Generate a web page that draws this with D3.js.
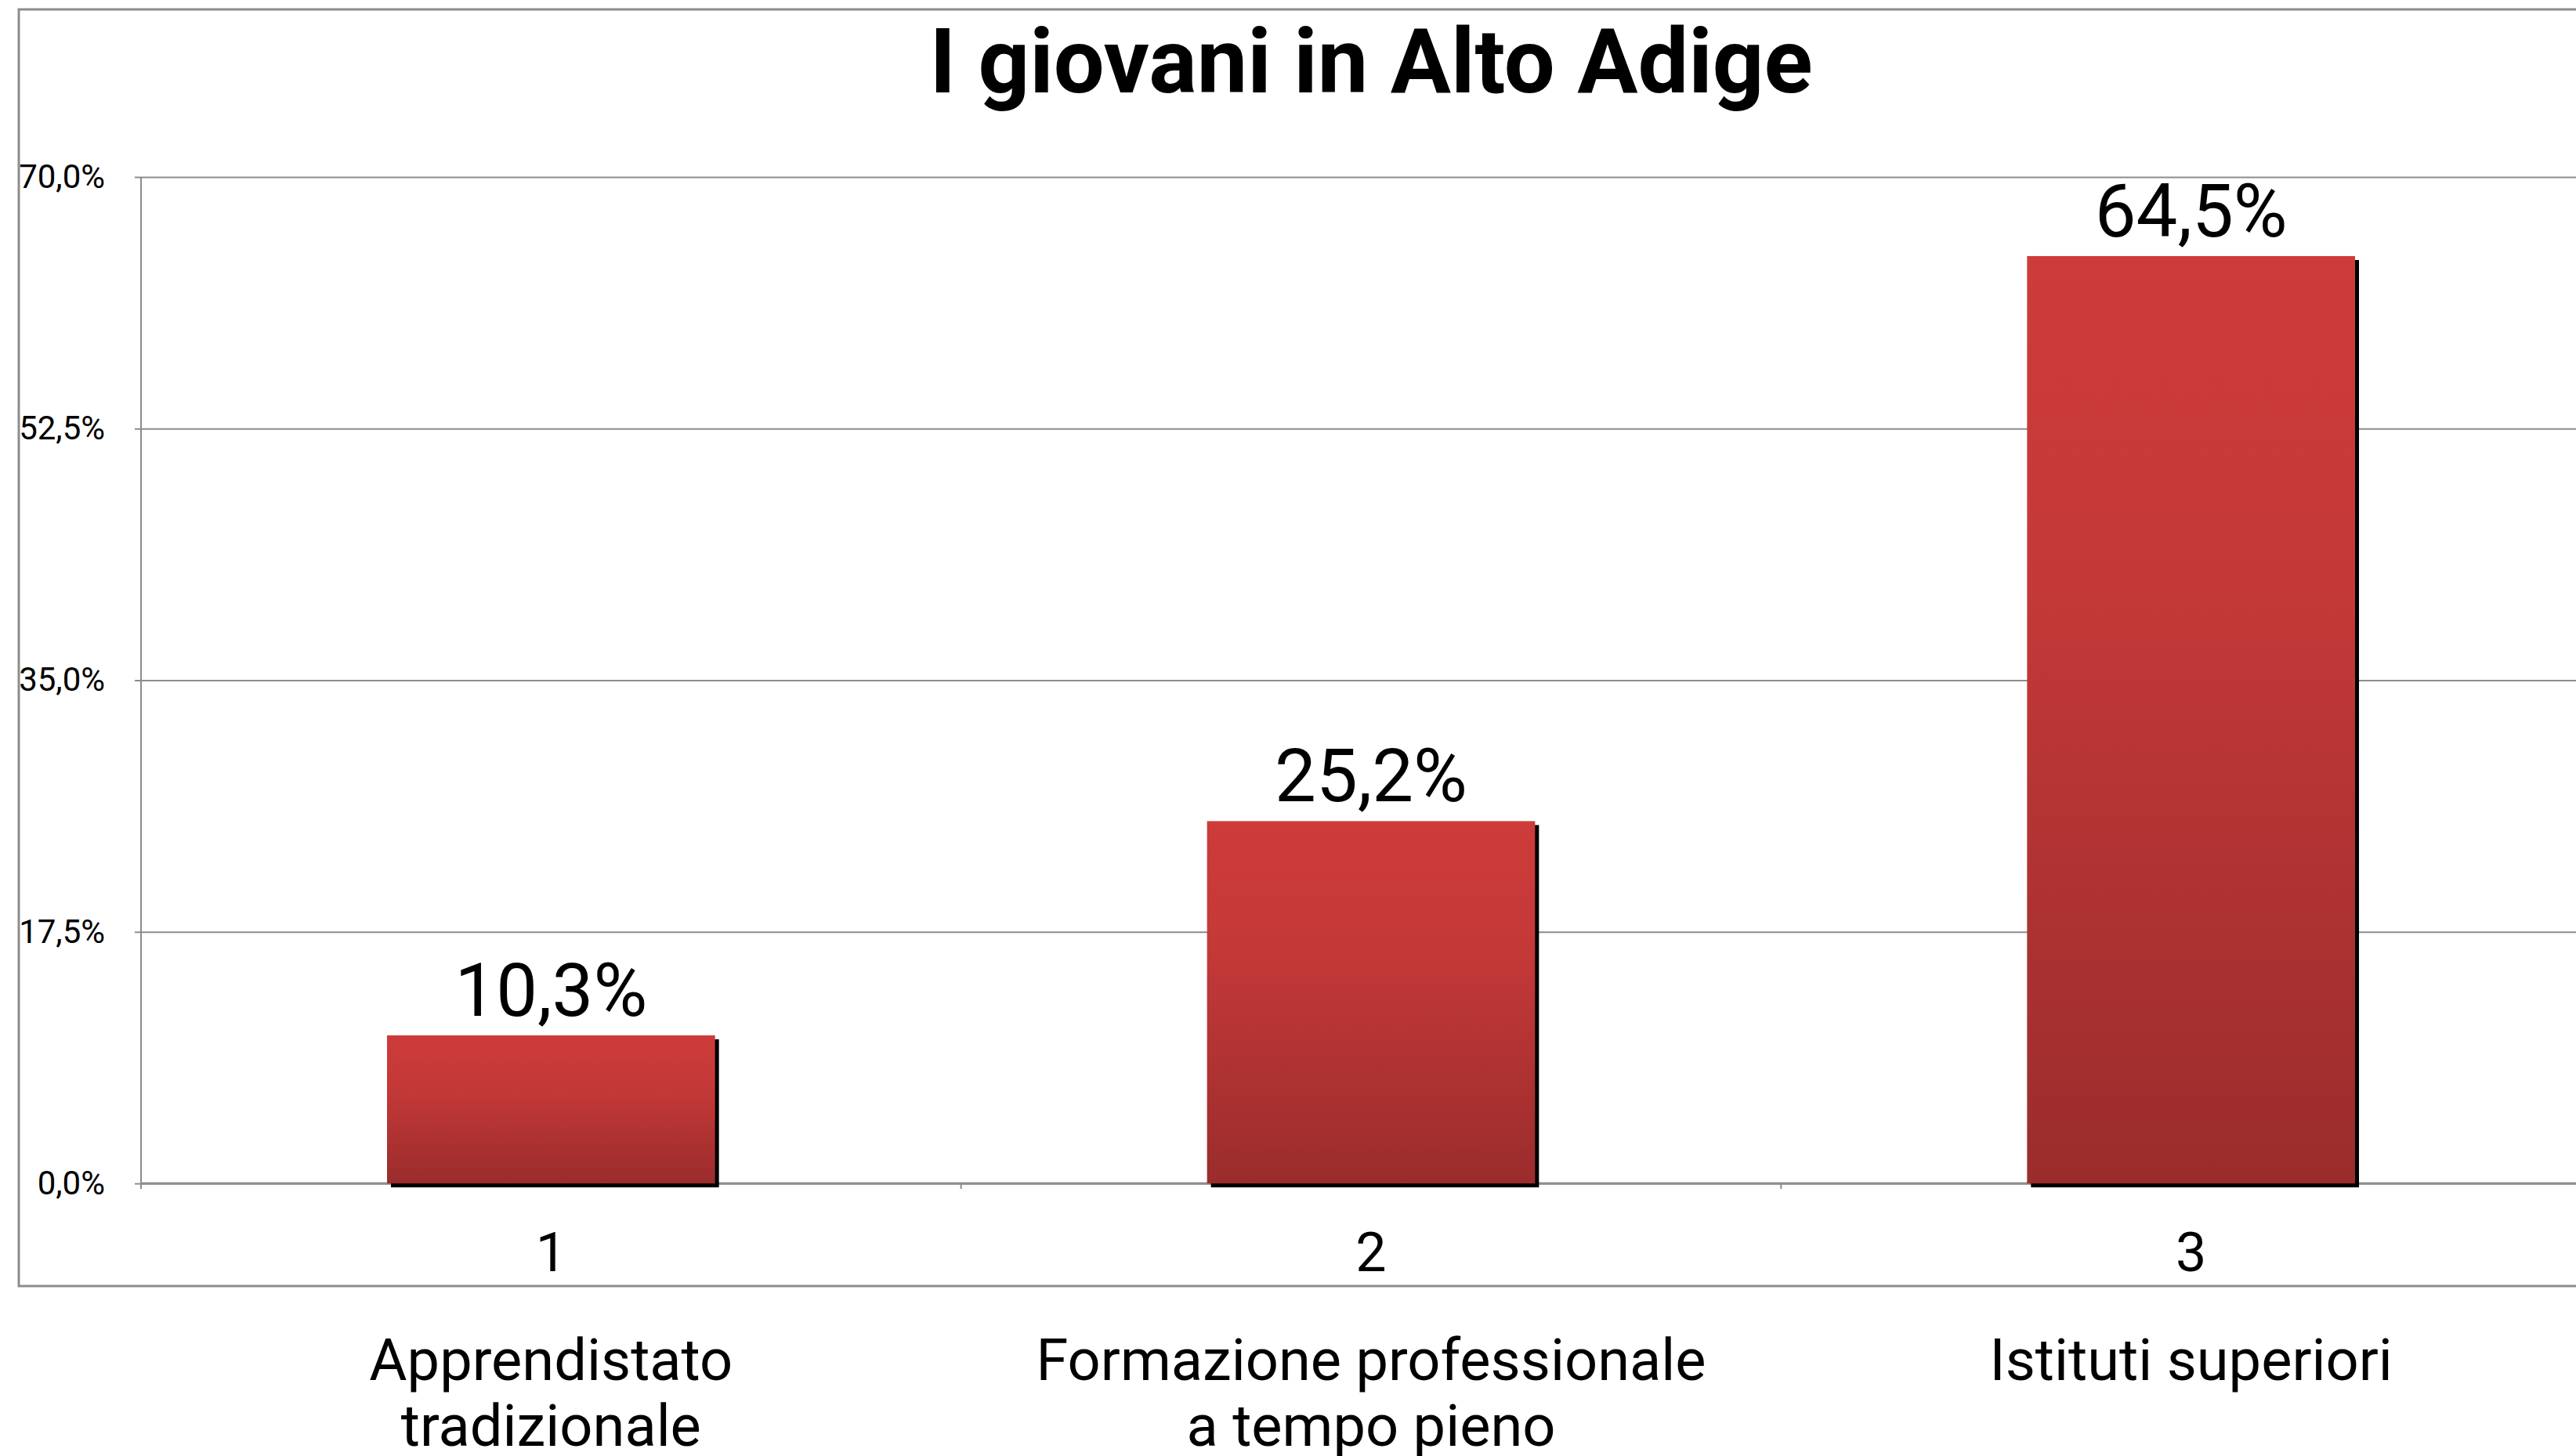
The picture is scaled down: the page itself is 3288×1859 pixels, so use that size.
<!DOCTYPE html>
<html>
<head>
<meta charset="utf-8">
<script src="https://cdn.jsdelivr.net/npm/d3@7"></script>
<style>
  body { margin: 0; background: #fff; }
  svg { display: block; }
</style>
</head>
<body>
<div id="Bar"></div>
<script>
var title = "I giovani in Alto Adige";
var categories = ["1", "2", "3"];
var categoryNames = [["Apprendistato", "tradizionale"], ["Formazione professionale", "a tempo pieno"], ["Istituti superiori"]];
var values = [10.3, 25.2, 64.5];
var yTicks = [0, 17.5, 35, 52.5, 70];

var width = 3288;
var height = 1859;

var svg = d3.select("#Bar")
            .append("svg")
            .attr("width", width)
            .attr("height", height)
            .style("font-family", "Roboto, 'Noto Sans', sans-serif"),
    margin = {top: 226, right: -32, bottom: 348, left: 180},
    innerWidth = width - margin.left - margin.right,
    innerHeight = height - margin.top - margin.bottom;

var it = d3.formatLocale({decimal: ",", thousands: ".", grouping: [3], currency: ["", "€"]});
var fmtTick = function(d) { return it.format(".1f")(d) + "%"; };

// outer chart frame
svg.append("rect")
    .attr("x", 24).attr("y", 12)
    .attr("width", width + 40).attr("height", 1630)
    .attr("fill", "none")
    .attr("stroke", "#8c8c8c")
    .attr("stroke-width", 3);

svg.append("text")
    .attr("x", margin.left + innerWidth / 2)
    .attr("y", 118)
    .attr("text-anchor", "middle")
    .attr("font-size", "115px")
    .attr("font-weight", "bold")
    .text(title);

var g = svg.append("g").attr("transform", "translate(" + margin.left + "," + margin.top + ")");

var x = d3.scaleBand()
    .domain(categories)
    .range([0, innerWidth])
    .paddingInner(0.6)
    .paddingOuter(0.3);

var y = d3.scaleLinear()
    .domain([0, 70])
    .range([innerHeight, 0]);

var defs = svg.append("defs");
var grad = defs.append("linearGradient")
    .attr("id", "barFill")
    .attr("x1", 0).attr("y1", 0).attr("x2", 0).attr("y2", 1);
grad.append("stop").attr("offset", "0%").attr("stop-color", "#cd3b3a");
grad.append("stop").attr("offset", "35%").attr("stop-color", "#c43938");
grad.append("stop").attr("offset", "100%").attr("stop-color", "#9b2c2c");

// gridlines
g.append("g")
    .call(d3.axisLeft(y).tickValues(yTicks).tickSize(-innerWidth).tickFormat(""))
    .call(function(a) {
      a.select(".domain").remove();
      a.selectAll("line").attr("stroke", "#8c8c8c").attr("stroke-width", 2);
    });

// y axis
g.append("g")
    .call(d3.axisLeft(y).tickValues(yTicks).tickSize(8).tickPadding(38).tickFormat(fmtTick))
    .call(function(a) {
      a.select(".domain").attr("d", "M0,0V" + (innerHeight + 7)).attr("stroke", "#8c8c8c").attr("stroke-width", 2);
      a.selectAll("line").attr("stroke", "#8c8c8c").attr("stroke-width", 2);
      a.selectAll("text").attr("font-size", "42px").attr("fill", "#000")
        .attr("font-family", "Roboto, sans-serif");
    });

// x axis baseline and category boundary ticks
g.append("line")
    .attr("x1", 0).attr("x2", innerWidth)
    .attr("y1", innerHeight).attr("y2", innerHeight)
    .attr("stroke", "#8c8c8c").attr("stroke-width", 3);

g.selectAll(".sep")
    .data(categories.slice(1))
    .enter().append("line")
      .attr("class", "sep")
      .attr("x1", function(d) { return x(d) - x.step() * x.paddingInner() / 2; })
      .attr("x2", function(d) { return x(d) - x.step() * x.paddingInner() / 2; })
      .attr("y1", innerHeight)
      .attr("y2", innerHeight + 7)
      .attr("stroke", "#8c8c8c").attr("stroke-width", 2);

var bar = g.append("g")
    .selectAll("g")
    .data(values)
    .enter().append("g");

// shadow
bar.append("rect")
    .attr("x", function(d, i) { return x(categories[i]) + 5; })
    .attr("y", function(d) { return y(d) + 5; })
    .attr("width", x.bandwidth())
    .attr("height", function(d) { return innerHeight - y(d); })
    .attr("fill", "#000");

bar.append("rect")
    .attr("x", function(d, i) { return x(categories[i]); })
    .attr("y", function(d) { return y(d); })
    .attr("width", x.bandwidth())
    .attr("height", function(d) { return innerHeight - y(d); })
    .attr("fill", "url(#barFill)");

bar.append("text")
    .attr("x", function(d, i) { return x(categories[i]) + x.bandwidth() / 2; })
    .attr("y", function(d) { return y(d) - 25; })
    .attr("text-anchor", "middle")
    .attr("font-size", "94px")
    .text(function(d) { return it.format(".1f")(d) + "%"; });

// category numbers
g.append("g")
    .selectAll("text")
    .data(categories)
    .enter().append("text")
      .attr("x", function(d) { return x(d) + x.bandwidth() / 2; })
      .attr("y", innerHeight + 112)
      .attr("text-anchor", "middle")
      .attr("font-size", "70px")
      .text(function(d) { return d; });

// category names
var names = g.append("g")
    .selectAll("text")
    .data(categoryNames)
    .enter().append("text")
      .attr("text-anchor", "middle")
      .attr("font-size", "74px");

names.selectAll("tspan")
    .data(function(d, i) { return d.map(function(line, j) { return {line: line, j: j, cat: categories[i]}; }); })
    .enter().append("tspan")
      .attr("x", function(d) { return x(d.cat) + x.bandwidth() / 2; })
      .attr("y", function(d) { return innerHeight + 251 + d.j * 84; })
      .text(function(d) { return d.line; });
</script>
</body>
</html>
